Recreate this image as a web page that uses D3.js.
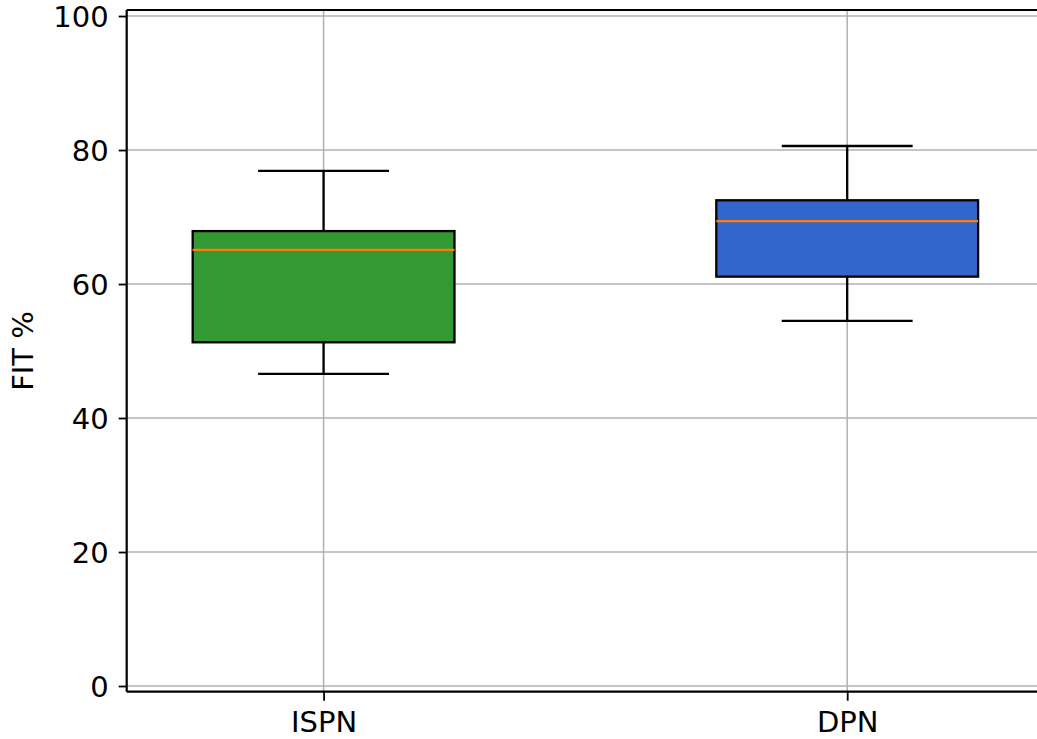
<!DOCTYPE html>
<html>
<head>
<meta charset="utf-8">
<script src="https://cdn.jsdelivr.net/npm/d3@7"></script>
<style>
  body { margin: 0; background: #fff; }
  svg { display: block; }
  text { font-family: "DejaVu Sans", sans-serif; fill: #000; }
</style>
</head>
<body>
<svg class="chart" width="1037" height="739"></svg>
<script>
// box stats
const categories = ['ISPN', 'DPN'];
const whiskerLow = [46.6, 54.5];
const q1 = [51.3, 61.1];
const median = [65.1, 69.4];
const q3 = [67.9, 72.5];
const whiskerHigh = [76.9, 80.6];
const fills = ['#339933', '#3366cc'];
const yTicks = [0, 20, 40, 60, 80, 100];

const svg = d3.select('svg.chart');
const fontSize = 29;
const lw = 2.3;

// x is positional like matplotlib boxplot (1, 2, ...)
const x = d3.scaleLinear().domain([0.624, 2.5]).range([126.7, 1109]);
const y = d3.scaleLinear().domain([-0.85, 100.9]).range([691.7, 10]);

const boxes = categories.map(function (c, i) {
    return {
        name: c, pos: i + 1,
        lo: whiskerLow[i], q1: q1[i], med: median[i], q3: q3[i], hi: whiskerHigh[i],
        fill: fills[i]
    };
});

// grid
const grid = svg.append('g').attr('class', 'grid');
grid.selectAll('line.h')
    .data(yTicks)
    .enter()
    .append('line')
    .attr('class', 'h')
    .attr('x1', x(0.624)).attr('x2', 1037)
    .attr('y1', d => y(d)).attr('y2', d => y(d))
    .attr('stroke', '#b0b0b0')
    .attr('stroke-width', 1.5);
grid.selectAll('line.v')
    .data(boxes)
    .enter()
    .append('line')
    .attr('class', 'v')
    .attr('x1', d => x(d.pos)).attr('x2', d => x(d.pos))
    .attr('y1', y(100.9)).attr('y2', y(-0.85))
    .attr('stroke', '#b0b0b0')
    .attr('stroke-width', 1.5);

// boxes
const g = svg.selectAll('g.box')
    .data(boxes)
    .enter()
    .append('g')
    .attr('class', 'box');

const halfBox = 0.25, halfCap = 0.125;

g.append('line') // lower whisker
    .attr('x1', d => x(d.pos)).attr('x2', d => x(d.pos))
    .attr('y1', d => y(d.lo)).attr('y2', d => y(d.q1))
    .attr('stroke', '#000').attr('stroke-width', lw);
g.append('line') // upper whisker
    .attr('x1', d => x(d.pos)).attr('x2', d => x(d.pos))
    .attr('y1', d => y(d.q3)).attr('y2', d => y(d.hi))
    .attr('stroke', '#000').attr('stroke-width', lw);
g.append('line') // low cap
    .attr('x1', d => x(d.pos - halfCap)).attr('x2', d => x(d.pos + halfCap))
    .attr('y1', d => y(d.lo)).attr('y2', d => y(d.lo))
    .attr('stroke', '#000').attr('stroke-width', lw);
g.append('line') // high cap
    .attr('x1', d => x(d.pos - halfCap)).attr('x2', d => x(d.pos + halfCap))
    .attr('y1', d => y(d.hi)).attr('y2', d => y(d.hi))
    .attr('stroke', '#000').attr('stroke-width', lw);
g.append('rect')
    .attr('x', d => x(d.pos - halfBox))
    .attr('width', d => x(d.pos + halfBox) - x(d.pos - halfBox))
    .attr('y', d => y(d.q3))
    .attr('height', d => y(d.q1) - y(d.q3))
    .attr('fill', d => d.fill)
    .attr('stroke', '#000')
    .attr('stroke-width', lw);
g.append('line') // median
    .attr('x1', d => x(d.pos - halfBox)).attr('x2', d => x(d.pos + halfBox))
    .attr('y1', d => y(d.med)).attr('y2', d => y(d.med))
    .attr('stroke', '#ff7f0e').attr('stroke-width', lw);

// axes
const yAxis = d3.axisLeft(y).tickValues(yTicks).tickSize(8).tickPadding(10);
const yG = svg.append('g')
    .attr('transform', 'translate(126.7,0)')
    .call(yAxis);
const xAxis = d3.axisBottom(x).tickValues(boxes.map(d => d.pos))
    .tickFormat((d, i) => categories[i]).tickSize(9).tickPadding(10);
const xG = svg.append('g')
    .attr('transform', 'translate(0,691.7)')
    .call(xAxis);

[yG, xG].forEach(function (a) {
    a.select('.domain').remove();
    a.selectAll('.tick line').attr('stroke', '#000').attr('stroke-width', 1.8);
    a.selectAll('.tick text')
        .attr('font-family', '"DejaVu Sans", sans-serif')
        .attr('font-size', fontSize + 'px')
        .attr('fill', '#000');
});
yG.selectAll('.tick text').attr('dy', '0.36em');
xG.selectAll('.tick text').attr('dy', '0.73em');

// spines (left, bottom, top; right one is clipped at the edge)
svg.append('line')
    .attr('x1', 126.7).attr('x2', 126.7)
    .attr('y1', 10).attr('y2', 691.7)
    .attr('stroke', '#000').attr('stroke-width', 2.2);
svg.append('line')
    .attr('x1', 126.7).attr('x2', 1037)
    .attr('y1', 691.7).attr('y2', 691.7)
    .attr('stroke', '#000').attr('stroke-width', 2.2);
svg.append('line')
    .attr('x1', 126.7).attr('x2', 1037)
    .attr('y1', 10).attr('y2', 10)
    .attr('stroke', '#000').attr('stroke-width', 2.2);

// y label
svg.append('text')
    .attr('transform', 'translate(33,351) rotate(-90)')
    .attr('text-anchor', 'middle')
    .attr('font-size', fontSize + 'px')
    .text('FIT %');
</script>
</body>
</html>
